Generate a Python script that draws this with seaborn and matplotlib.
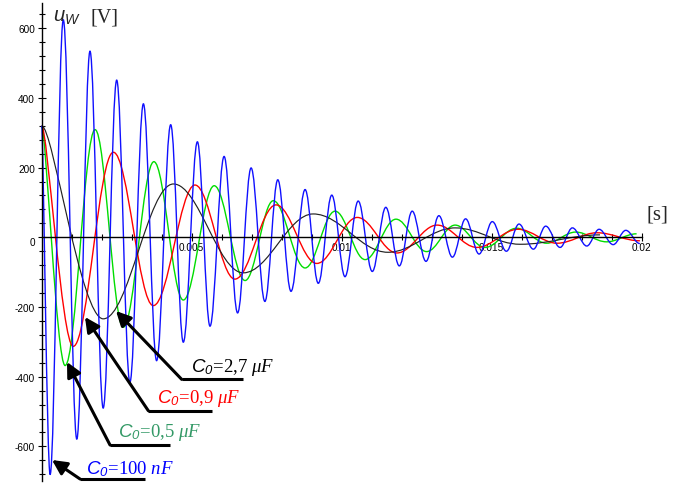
import numpy as np
import pandas as pd
import seaborn as sns
import matplotlib
matplotlib.use("Agg")
import matplotlib.pyplot as plt
from matplotlib.path import Path
from matplotlib.patches import PathPatch
from matplotlib.ticker import FixedLocator

# ---------------- data (start value + successive extrema) ----------------
t_100nF = [0, 0.00028, 0.00072, 0.00117, 0.00161, 0.00205, 0.00250, 0.00294, 0.00339, 0.00383,
           0.00430, 0.00472, 0.00519, 0.00561, 0.00608, 0.00653, 0.00698, 0.00744, 0.00787, 0.00831,
           0.00878, 0.00922, 0.00967, 0.01011, 0.01055, 0.01102, 0.01147, 0.01192, 0.01235, 0.01281,
           0.01324, 0.01369, 0.01413, 0.01458, 0.01502, 0.01549, 0.01591, 0.01639, 0.01680, 0.01728,
           0.01769, 0.01817, 0.01858, 0.01905, 0.01947, 0.01994]
u_100nF = [320, -681, 624, -579, 534, -490, 451, -416, 383, -354,
           323, -301, 274, -255, 232, -217, 199, -184, 165, -155,
           137, -132, 121, -113, 104, -98, 86, -82, 75, -69,
           62, -57, 53, -48, 45, -40, 38, -34, 32, -29,
           27, -25, 23, -21, 20, -18]

t_05uF = [0, 0.00078, 0.00178, 0.00272, 0.00374, 0.00472, 0.00575, 0.00678, 0.00772, 0.00878,
          0.00978, 0.01078, 0.01181, 0.01283, 0.01378, 0.01478, 0.01583, 0.01683, 0.01780, 0.01883,
          0.01983]
u_05uF = [320, -368, 309, -258, 217, -180, 148, -124, 105, -88,
          75, -64, 52, -41, 35, -29, 26, -17, 15, -13,
          10]

t_09uF = [0, 0.00105, 0.00239, 0.00372, 0.00511, 0.00644, 0.00781, 0.00917, 0.01052, 0.01184,
          0.01318, 0.01451, 0.01588, 0.01718, 0.01851, 0.01994]
u_09uF = [320, -313, 244, -196, 150, -120, 93, -75, 57, -45,
          35, -29, 23, -17, 13, -10]

t_27uF = [0, 0.00205, 0.00439, 0.00672, 0.00905, 0.01154, 0.01378, 0.01595, 0.01861]
u_27uF = [320, -234, 153, -102, 67, -43, 27, -20, 7]

series_names = ["C0=100 nF", "C0=0,5 uF", "C0=0,9 uF", "C0=2,7 uF"]
y_ticks = [-600, -400, -200, 0, 200, 400, 600]
y_ticklabels = ["-600", "-400", "-200", "0", "200", "400", "600"]
x_ticks = [0.005, 0.01, 0.015, 0.02]
x_ticklabels = ["0.005", "0.01", "0.015", "0.02"]

# ---------------- style ----------------
sns.set_style("white")
plt.rcParams['font.family'] = ['Liberation Sans', 'DejaVu Sans']
plt.rcParams['mathtext.fontset'] = 'custom'
plt.rcParams['mathtext.rm'] = 'Liberation Serif'
plt.rcParams['mathtext.it'] = 'Liberation Serif:italic'
plt.rcParams['mathtext.sf'] = 'Liberation Sans:italic'

fig = plt.figure(figsize=(6.8, 4.85), dpi=100)
ax = fig.add_axes([0, 0, 1, 1])
ax.set_xlim(-0.00139, 0.021277)
ax.set_ylim(-707.9, 683.8)
ax.set_facecolor('white')


def smooth_path(t, u, k=0.3642):
    """Smooth line through the given extrema (horizontal tangents at the extrema)."""
    verts = [(t[0], u[0])]
    codes = [Path.MOVETO]
    for i in range(len(t) - 1):
        h = t[i + 1] - t[i]
        k0 = k * 0.5 if i == 0 else k
        verts += [(t[i] + k0 * h, u[i]), (t[i + 1] - k * h, u[i + 1]), (t[i + 1], u[i + 1])]
        codes += [Path.CURVE4] * 3
    return Path(verts, codes)


curves = [
    (t_05uF, u_05uF, '#00dd00', 1.0),
    (t_09uF, u_09uF, '#ff0000', 1.0),
    (t_27uF, u_27uF, '#222222', 0.85),
    (t_100nF, u_100nF, '#1010ff', 1.0),
]
for t, u, col, lw in curves:
    ax.add_patch(PathPatch(smooth_path(t, u), fill=False, edgecolor=col, lw=lw, zorder=2))

# ---------------- axes ----------------
for s in ['top', 'right']:
    ax.spines[s].set_visible(False)
ax.spines['left'].set_position(('data', 0))
ax.spines['bottom'].set_position(('data', 0))
ax.spines['left'].set_bounds(-700, 672)
ax.spines['bottom'].set_bounds(0, 0.02)
for s in ['left', 'bottom']:
    ax.spines[s].set_color('black')
    ax.spines[s].set_linewidth(1.0)
    ax.spines[s].set_zorder(2.5)

ax.set_xticks(x_ticks, labels=x_ticklabels)
ax.xaxis.set_minor_locator(FixedLocator([i * 0.001 for i in range(1, 20)]))
ax.set_yticks(y_ticks, labels=y_ticklabels)
ax.yaxis.set_minor_locator(FixedLocator(list(range(-680, 641, 40))))

ax.tick_params(which='both', bottom=True, left=True, direction='inout', color='black',
               labelcolor='black', width=0.8)
ax.tick_params(which='major', length=6)
ax.tick_params(which='minor', length=4)
ax.tick_params(axis='x', which='major', labelsize=7.2, pad=0.5)
ax.tick_params(axis='y', which='major', labelsize=7.2, pad=1.8)
for lab in ax.get_xticklabels() + ax.get_yticklabels():
    lab.set_fontfamily('Liberation Sans')
for tk in ax.yaxis.get_major_ticks():
    if tk.label1.get_text() == '0':
        tk.label1.set_verticalalignment('top')

# axis titles
fig.text(53 / 680, 1 - 17 / 485, r'$\mathsf{u}_{\mathsf{W}}$', fontsize=14.5, va='center', ha='left')
fig.text(91 / 680, 1 - 18 / 485, '[V]', family='Liberation Serif', fontsize=14.5, va='center', ha='left')
fig.text(647 / 680, 1 - 215 / 485, '[s]', family='Liberation Serif', fontsize=15, va='center', ha='left')

# ---------------- annotations ----------------
annotations = [
    # text, colour, text (t, u), underline (t0, t1, u), arrow tip (t, u)
    (r'$\mathsf{C}_{\mathsf{0}}$=2,7 $\mu F$', 'black', (0.004967, -382.8), (0.004667, 0.00672, -407.7), (0.002477, -211.5)),
    (r'$\mathsf{C}_{\mathsf{0}}$=0,9 $\mu F$', '#ff0000', (0.003853, -471.7), (0.003553, 0.005667, -497.6), (0.001443, -228.7)),
    (r'$\mathsf{C}_{\mathsf{0}}$=0,5 $\mu F$', '#339966', (0.002553, -569.3), (0.002277, 0.004277, -596.0), (0.000843, -357.8)),
    (r'$\mathsf{C}_{\mathsf{0}}$=100 $nF$', '#0000ff', (0.001477, -677.2), (0.001277, 0.003443, -693.5), (0.000343, -639.0)),
]
for txt, col, (tx, ty), (l0, l1, ly), (ax_t, ax_u) in annotations:
    ax.text(tx, ty, txt, color=col, fontsize=13.5, family='Liberation Serif', ha='left', va='baseline', zorder=6)
    ax.plot([l0, l1], [ly, ly], color='black', lw=2.2, solid_capstyle='butt', zorder=5)
    ax.annotate('', xy=(ax_t, ax_u), xytext=(l0, ly), textcoords='data',
                arrowprops=dict(arrowstyle='-|>', lw=2.2, color='black', mutation_scale=22,
                                shrinkA=0, shrinkB=0), zorder=5)

fig.savefig('out.png', dpi=100, facecolor='white')
